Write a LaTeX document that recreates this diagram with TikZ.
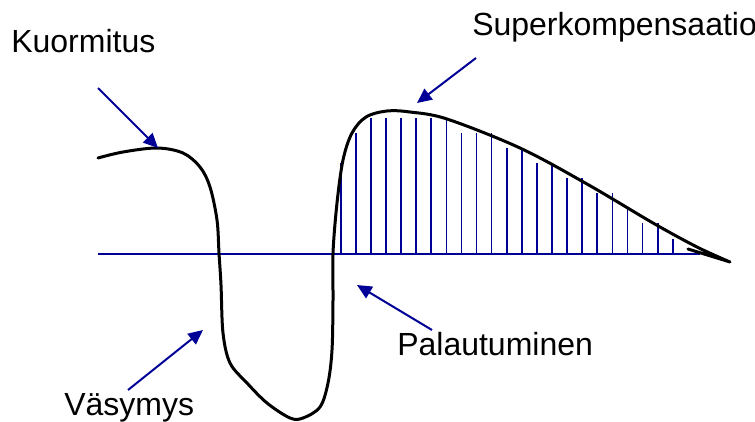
\documentclass[tikz,border=0pt]{standalone}
\usepackage{fontspec}
\setmainfont{Liberation Sans}
\usetikzlibrary{arrows.meta}
\definecolor{dkblue}{RGB}{0,0,150}
\tikzset{
  crv/.style={line width=2.25pt,black,line join=round,line cap=round},
  ax/.style={line width=1.2pt,dkblue},
  bar/.style={line width=1.3pt,dkblue},
  ptr/.style={line width=1.5pt,dkblue,-{Triangle[length=11pt,width=10pt]}},
  lbl/.style={anchor=base west,inner sep=0pt,font=\fontsize{24}{28}\selectfont}
}

\begin{document}
\begin{tikzpicture}[x=0.75pt,y=-0.75pt]
\clip (0,0) rectangle (755,421);
% labels
\node[lbl] (kuorm) at (11,52) {Kuormitus};
\node[lbl] (super) at (472,35) {Superkompensaatio};
\node[lbl] (vasy) at (64,415) {Väsymys};
\node[lbl] (palau) at (397,355) {Palautuminen};
% baseline and bars
\coordinate (b0) at (98,254); \coordinate (b1) at (700,254);
\draw[ax] (b0) -- (b1);
\foreach \x/\t in {340.7/163,355.8/133,370.9/118,386.0/118,401.1/118,416.2/118,431.3/118,446.4/118,
  461.4/133,476.5/133,491.6/133,506.7/148,521.8/148,536.9/163,552.0/163,567.1/178,582.2/178,
  597.3/193,612.4/193,627.5/208,642.6/223,657.7/223,672.7/239}
  \draw[bar] (\x,254) -- (\x,\t);
% curve
\draw[crv] plot[smooth,tension=0.55] coordinates {(98,158) (123,152) (157,148) (183,153) (200,167)
  (210,187) (217,220) (219,253) (221,285) (223,333) (230,363) (247,383) (267,403) (290,418)
  (303,418) (320,407) (328,383) (332,350) (333,300) (333,253) (337,203) (343,160) (352,133)
  (366,117) (387,111) (410,112) (447,119) (520,148) (587,184) (653,223) (697,247) (730,262)}
  -- (688,249);
% pointers
\coordinate (kt) at (98,88);   \coordinate (kh) at (158,148);
\coordinate (st) at (476,58);  \coordinate (sh) at (417,103);
\coordinate (vt) at (128,390); \coordinate (vh) at (203,330);
\coordinate (pt) at (432,330); \coordinate (ph) at (357,285);
\draw[ptr] (kt) -- (kh);
\draw[ptr] (st) -- (sh);
\draw[ptr] (vt) -- (vh);
\draw[ptr] (pt) -- (ph);
\end{tikzpicture}
\end{document}
